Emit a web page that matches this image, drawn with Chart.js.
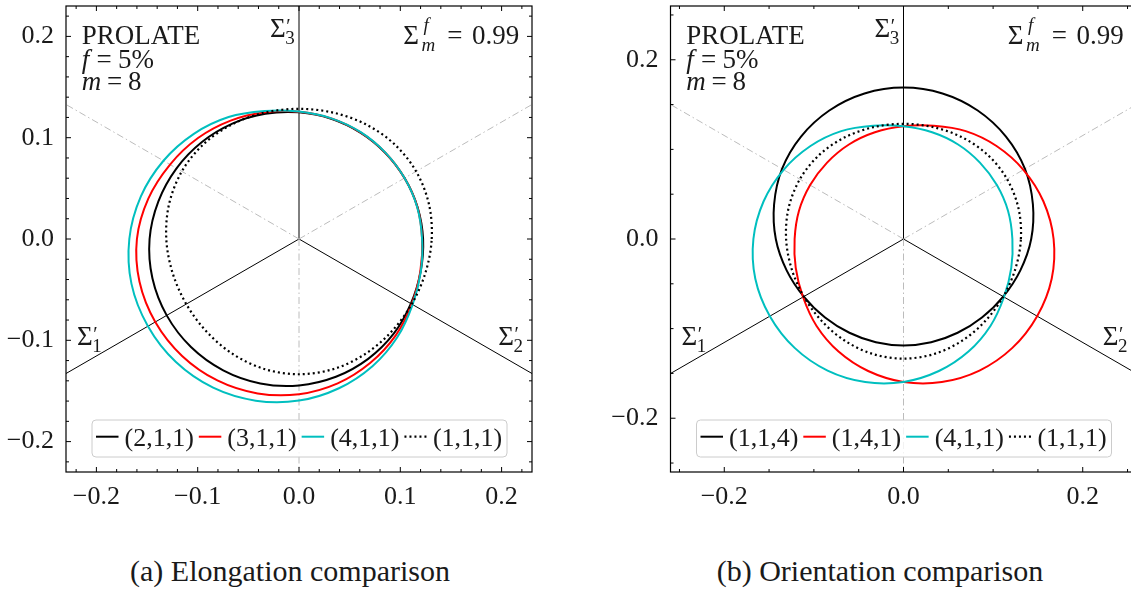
<!DOCTYPE html>
<html><head><meta charset="utf-8">
<script src="https://cdn.jsdelivr.net/npm/chart.js@4.4.1/dist/chart.umd.min.js"></script>
<style>
html,body{margin:0;padding:0;background:#fff;overflow:hidden;width:1131px;height:592px;position:relative;}
canvas{position:absolute;top:0;}
#ca{left:0;} #cb{left:600px;}
.cap{position:absolute;top:556px;font-family:'Liberation Serif',serif;font-size:30px;line-height:30px;color:#1a1a1a;white-space:nowrap;transform:translateX(-50%);}
</style></head><body>
<canvas id="ca" width="560" height="520"></canvas>
<canvas id="cb" width="560" height="520"></canvas>
<div class="cap" style="left:290px">(a) Elongation comparison</div>
<div class="cap" style="left:880px">(b) Orientation comparison</div>
<script>
// ---- data (polar radii, angle in degrees from +x axis) ----
const ANGLES = [0,15,30,45,60,75,90,105,120,135,150,165,180,195,210,225,240,255,270,285,300,315,330,345];
const R_211 = [0.1225,0.1212,0.1203,0.1203,0.1212,0.1228,0.1250,0.1280,0.1316,0.1355,0.1396,0.1437,0.1475,0.1498,0.1508,0.1508,0.1497,0.1476,0.1445,0.1408,0.1366,0.1322,0.1275,0.1243];
const R_311 = [0.1215,0.1210,0.1203,0.1205,0.1215,0.1233,0.1257,0.1296,0.1350,0.1410,0.1470,0.1540,0.1600,0.1630,0.1638,0.1632,0.1612,0.1578,0.1532,0.1475,0.1410,0.1348,0.1285,0.1240];
const R_411 = [0.1215,0.1208,0.1203,0.1206,0.1218,0.1233,0.1258,0.1308,0.1390,0.1468,0.1545,0.1617,0.1675,0.1712,0.1722,0.1718,0.1695,0.1652,0.1595,0.1525,0.1450,0.1372,0.1295,0.1245];
const R_111 = [0.1310,0.1328,0.1335,0.1328,0.1310,0.1292,0.1285,0.1292,0.1310,0.1328,0.1335,0.1328,0.1310,0.1292,0.1285,0.1292,0.1310,0.1328,0.1335,0.1328,0.1310,0.1292,0.1285,0.1292];
const R_114 = [0.1425,0.1495,0.1565,0.1617,0.1656,0.1681,0.1690,0.1681,0.1656,0.1617,0.1565,0.1495,0.1425,0.1350,0.1285,0.1238,0.1208,0.1193,0.1188,0.1193,0.1208,0.1238,0.1285,0.1350];
const R_141 = [0.1675,0.1617,0.1545,0.1468,0.1390,0.1308,0.1258,0.1233,0.1218,0.1206,0.1203,0.1208,0.1215,0.1245,0.1295,0.1372,0.1450,0.1525,0.1595,0.1652,0.1695,0.1718,0.1722,0.1712];
const LABELS_A = ['(2,1,1)','(3,1,1)','(4,1,1)','(1,1,1)'];
const LABELS_B = ['(1,1,4)','(1,4,1)','(4,1,1)','(1,1,1)'];
const TICKS_A = [-0.2,-0.1,0.0,0.1,0.2];
const TICKS_B = [-0.2,0.0,0.2];
const LIM_A = 0.23, LIM_B = 0.26;
const MINOR_A = 0.02, MINOR_B = 0.05;
const GUIDE_SOLID = [90,210,330];
const GUIDE_DASH = [30,150,270];

const D = Math.PI/180;
const FONT = "'Liberation Serif', 'Times New Roman', serif";
const INK = '#1a1a1a';
const COLORS = ['#000000','#ff0000','#00bfbf','#000000'];

function polar(r){ return ANGLES.map((a,i)=>({x:r[i]*Math.cos(a*D), y:r[i]*Math.sin(a*D)})); }
function curveDS(label, radii, color, dotted, order){
  return {label, data:polar(radii), borderColor:color, borderWidth: dotted?2.2:2, borderDash: dotted?[2,3]:[],
    borderCapStyle:'butt', pointRadius:0, tension:0.33, fill:false, closed:true, order};
}
function guideDS(angle, dashed){
  return {data:[{x:0,y:0},{x:Math.cos(angle*D),y:Math.sin(angle*D)}], borderColor: dashed?'#bcbcbc':'#000000',
    borderWidth:1, borderDash: dashed?[7,3,1.5,3]:[], pointRadius:0, tension:0, fill:false, order:10};
}
const fmt = v => (v < -1e-9 ? '\u2212' : '') + Math.abs(v).toFixed(1);

const closeLoop = {
  id:'closeLoop',
  afterDatasetUpdate(chart, args){
    const ds = chart.data.datasets[args.index];
    const line = args.meta && args.meta.dataset;
    if (!ds || !ds.closed || !line) return;
    line._loop = true; line._fullLoop = true; line._pointsUpdated = false;
    delete line._segments; delete line._path;
  }
};

function txt(ctx, s, x, y, size, italic, align){
  ctx.font = (italic?'italic ':'') + size + 'px ' + FONT;
  ctx.textAlign = align || 'left';
  ctx.fillText(s, x, y);
  return ctx.measureText(s).width;
}
function sigma(ctx, x, base, sub){
  const w = txt(ctx, 'Σ', x, base, 27);
  txt(ctx, '\u2032', x + w + 0.5, base - 4, 20);
  txt(ctx, sub, x + w - 0.5, base + 7, 19);
}

function makeDeco(cfg){
  return {
    id:'deco',
    afterDatasetsDraw(chart){
      const ctx = chart.ctx, a = chart.chartArea;
      const bx = a.left + 26, by = 420, bw = 415, bh = 37, rr = 4;
      ctx.save();
      ctx.beginPath();
      ctx.moveTo(bx+rr,by); ctx.lineTo(bx+bw-rr,by); ctx.arcTo(bx+bw,by,bx+bw,by+rr,rr);
      ctx.lineTo(bx+bw,by+bh-rr); ctx.arcTo(bx+bw,by+bh,bx+bw-rr,by+bh,rr);
      ctx.lineTo(bx+rr,by+bh); ctx.arcTo(bx,by+bh,bx,by+bh-rr,rr);
      ctx.lineTo(bx,by+rr); ctx.arcTo(bx,by,bx+rr,by,rr); ctx.closePath();
      ctx.fillStyle = 'rgba(255,255,255,0.8)'; ctx.fill();
      ctx.strokeStyle = '#cccccc'; ctx.lineWidth = 1; ctx.stroke();
      let x = bx + 4;
      chart.data.datasets.forEach(ds => {
        if (!ds.closed) return;
        ctx.strokeStyle = ds.borderColor; ctx.lineWidth = ds.borderWidth; ctx.setLineDash(ds.borderDash); ctx.lineCap = 'butt';
        ctx.beginPath(); ctx.moveTo(x, 436.7); ctx.lineTo(x + 22.5, 436.7); ctx.stroke();
        ctx.setLineDash([]);
        ctx.fillStyle = INK; ctx.textBaseline = 'alphabetic';
        const w = txt(ctx, ds.label, x + 28.5, 445.5, 26);
        x += 28.5 + w + 5;
      });
      ctx.restore();
    },
    afterDraw(chart){
      const ctx = chart.ctx, a = chart.chartArea, xs = chart.scales.x, ys = chart.scales.y;
      ctx.save();
      ctx.setLineDash([]);
      ctx.strokeStyle = '#000'; ctx.lineWidth = 1.2;
      ctx.strokeRect(a.left, a.top, a.right - a.left, a.bottom - a.top);
      ctx.lineWidth = 1;
      ctx.beginPath();
      const n = Math.floor(cfg.lim / cfg.minor + 1e-6);
      for (let k = -n; k <= n; k++){
        const v = k * cfg.minor;
        const major = cfg.ticks.some(t => Math.abs(t - v) < 1e-6);
        const len = major ? 5 : 3;
        const px = xs.getPixelForValue(v), py = ys.getPixelForValue(v);
        ctx.moveTo(px, a.bottom); ctx.lineTo(px, a.bottom - len);
        ctx.moveTo(px, a.top); ctx.lineTo(px, a.top + len);
        ctx.moveTo(a.left, py); ctx.lineTo(a.left + len, py);
        ctx.moveTo(a.right, py); ctx.lineTo(a.right - len, py);
      }
      ctx.stroke();
      ctx.fillStyle = INK; ctx.textBaseline = 'alphabetic';
      const L = a.left, R = a.right, X0 = xs.getPixelForValue(0);
      txt(ctx, 'PROLATE', L + 15.7, 44, 27);
      txt(ctx, 'f', L + 15.7, 68, 27, true); txt(ctx, '=', L + 30.5, 68, 27); txt(ctx, '5%', L + 52, 68, 27);
      txt(ctx, 'm', L + 15.7, 90, 27, true); txt(ctx, '=', L + 41, 90, 27); txt(ctx, '8', L + 62, 90, 27);
      sigma(ctx, X0 - 29, 37, '3');
      sigma(ctx, L + 11, 345, '1');
      sigma(ctx, R - 33.8, 345, '2');
      txt(ctx, '0.99', R - 12.7, 44, 27, false, 'right');
      txt(ctx, '=', R - 84.7, 44, 27);
      txt(ctx, 'Σ', R - 128.7, 44, 27);
      txt(ctx, 'f', R - 108.5, 31, 19, true);
      txt(ctx, 'm', R - 110.5, 51, 19, true);
      ctx.restore();
    }
  };
}

function zeroPad(s){ s.paddingLeft = 0; s.paddingRight = 0; s.paddingTop = 0; s.paddingBottom = 0; }

function makeChart(id, cfg){
  const curves = [
    curveDS(cfg.labels[0], cfg.radii[0], COLORS[0], false, 4),
    curveDS(cfg.labels[1], cfg.radii[1], COLORS[1], false, 3),
    curveDS(cfg.labels[2], cfg.radii[2], COLORS[2], false, 2),
    curveDS(cfg.labels[3], cfg.radii[3], COLORS[3], true, 1)
  ];
  const guides = [...GUIDE_DASH.map(g => guideDS(g, true)), ...GUIDE_SOLID.map(g => guideDS(g, false))];
  const tickFont = {family: FONT, size: 26, lineHeight: 1};
  return new Chart(document.getElementById(id), {
    type: 'line',
    data: {datasets: [...curves, ...guides]},
    options: {
      responsive: false, animation: false, devicePixelRatio: 1, events: [],
      layout: {padding: {left: 0, top: 6, right: cfg.padRight, bottom: 0}},
      plugins: {legend: {display: false}, tooltip: {enabled: false}},
      scales: {
        x: {type: 'linear', min: -cfg.lim, max: cfg.lim, grid: {display: false}, border: {display: false},
            ticks: {font: tickFont, color: INK, padding: 4, maxRotation: 0, minRotation: 0, autoSkip: false, callback: fmt},
            afterBuildTicks: s => { s.ticks = cfg.ticks.map(v => ({value: v})); },
            afterFit: s => { s.height = 520 - 6 - 466; zeroPad(s); }},
        y: {type: 'linear', min: -cfg.lim, max: cfg.lim, grid: {display: false}, border: {display: false},
            ticks: {font: tickFont, color: INK, padding: 4, autoSkip: false, callback: fmt},
            afterBuildTicks: s => { s.ticks = cfg.ticks.map(v => ({value: v})); },
            afterFit: s => { s.width = cfg.yW; zeroPad(s); }}
      }
    },
    plugins: [closeLoop, makeDeco(cfg)]
  });
}

makeChart('ca', {labels: LABELS_A, radii: [R_211, R_311, R_411, R_111], lim: LIM_A, ticks: TICKS_A, minor: MINOR_A, yW: 66, padRight: 560 - 66 - 466});
makeChart('cb', {labels: LABELS_B, radii: [R_114, R_141, R_411, R_111], lim: LIM_B, ticks: TICKS_B, minor: MINOR_B, yW: 70.5, padRight: 560 - 70.5 - 466});
</script></body></html>
